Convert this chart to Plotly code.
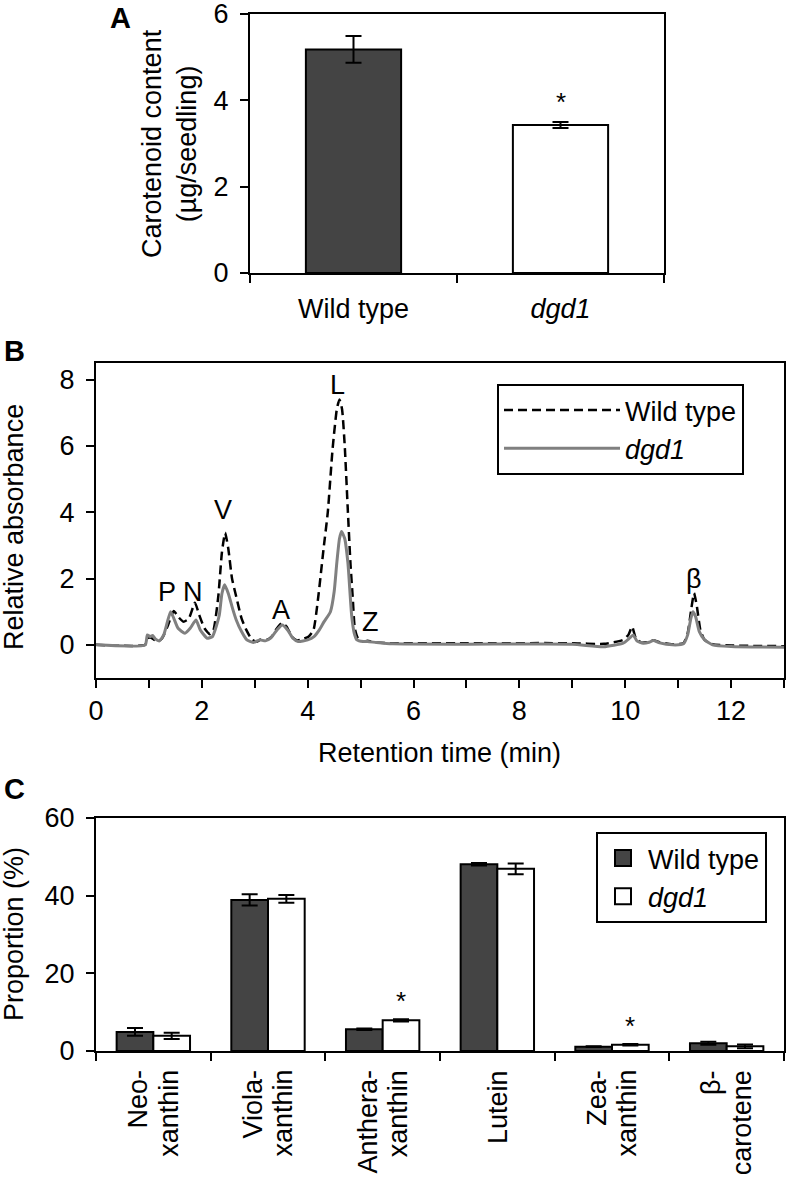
import plotly.graph_objects as go

# ---------------- Data ----------------
# Panel A: total carotenoid content
genotypes_a = ["Wild type", "<i>dgd1</i>"]
content_a = [5.18, 3.43]
content_err_a = [0.31, 0.07]

# Panel B: HPLC chromatogram
wt_time = [0, 0.93, 0.97, 1.03, 1.1, 1.17, 1.25, 1.35, 1.47, 1.55, 1.65, 1.75, 1.87, 1.95,
           2.05, 2.15, 2.22, 2.31, 2.38, 2.44, 2.5, 2.57, 2.65, 2.75, 2.84, 2.95, 3.05, 3.12,
           3.22, 3.32, 3.42, 3.52, 3.6, 3.7, 3.8, 3.92, 4.02, 4.11, 4.2, 4.3, 4.38, 4.47,
           4.55, 4.6, 4.65, 4.7, 4.76, 4.81, 4.85, 4.89, 4.95, 5.05, 5.13, 5.25, 5.5, 7.0,
           9.0, 9.6, 9.96, 10.06, 10.13, 10.2, 10.3, 10.42, 10.53, 10.65, 10.89, 11.1, 11.18,
           11.25, 11.3, 11.35, 11.42, 11.5, 11.65, 12.0, 13.0]
wt_abs = [0, 0, 0.2, 0.22, 0.15, 0.1, 0.2, 0.55, 1.02, 0.85, 0.7, 0.78, 1.27, 0.9,
          0.5, 0.32, 0.45, 1.45, 2.8, 3.38, 2.9, 2.0, 1.45, 0.8, 0.45, 0.15, 0.1, 0.17,
          0.15, 0.25, 0.5, 0.67, 0.55, 0.25, 0.13, 0.18, 0.25, 0.45, 1.45, 2.9, 4.0, 5.9,
          7.1, 7.4, 7.1, 6.0, 4.0, 2.4, 1.45, 0.5, 0.2, 0.1, 0.12, 0.08, 0.05, 0.05,
          0.05, 0.03, 0.15, 0.3, 0.55, 0.2, 0.07, 0.08, 0.14, 0.08, 0.02, 0.05, 0.35,
          1.1, 1.56, 1.2, 0.45, 0.15, 0.02, -0.02, -0.04]

dgd_time = [0, 0.93, 0.97, 1.02, 1.07, 1.12, 1.2, 1.28, 1.35, 1.41, 1.47, 1.55, 1.68, 1.78,
            1.89, 1.97, 2.1, 2.2, 2.28, 2.33, 2.38, 2.43, 2.5, 2.58, 2.65, 2.75, 2.85, 2.97,
            3.09, 3.2, 3.3, 3.42, 3.52, 3.62, 3.72, 3.82, 4.0, 4.12, 4.22, 4.31, 4.43, 4.5,
            4.55, 4.6, 4.64, 4.7, 4.76, 4.83, 4.88, 4.93, 5.05, 5.13, 5.3, 5.6, 7.0, 9.0,
            9.59, 9.96, 10.08, 10.15, 10.22, 10.34, 10.45, 10.53, 10.65, 10.89, 11.1, 11.18,
            11.24, 11.28, 11.33, 11.4, 11.5, 11.65, 12.0, 13.0]
dgd_abs = [0, 0, 0.3, 0.25, 0.28, 0.18, 0.12, 0.3, 0.7, 1.0, 0.8, 0.5, 0.35, 0.5,
           0.75, 0.45, 0.2, 0.25, 0.6, 0.9, 1.55, 1.81, 1.55, 1.1, 0.75, 0.4, 0.15, 0.07,
           0.15, 0.12, 0.2, 0.45, 0.6, 0.45, 0.2, 0.1, 0.15, 0.25, 0.45, 0.7, 1.0, 1.6,
           2.47, 3.2, 3.42, 3.2, 2.47, 0.9, 0.35, 0.15, 0.1, 0.1, 0.07, 0.03, 0.02, 0.02,
           -0.06, 0.05, 0.2, 0.3, 0.12, 0.05, 0.08, 0.13, 0.06, 0.0, 0.03, 0.3,
           0.8, 1.0, 0.85, 0.4, 0.15, 0.0, -0.05, -0.07]

peak_labels = ["P", "N", "V", "A", "L", "Z", "β"]
peak_label_t = [1.34, 1.83, 2.4, 3.49, 4.57, 5.19, 11.3]
peak_label_v = [1.6, 1.6, 4.08, 1.06, 7.85, 0.7, 2.0]

# Panel C: carotenoid composition
pigments = ["Neo-<br>xanthin", "Viola-<br>xanthin", "Anthera-<br>xanthin", "Lutein",
            "Zea-<br>xanthin", "β-<br>carotene"]
wt_prop = [4.9, 38.9, 5.6, 48.1, 1.1, 2.0]
wt_prop_err = [1.0, 1.45, 0.2, 0.3, 0.1, 0.4]
dgd_prop = [3.9, 39.2, 7.9, 46.9, 1.6, 1.2]
dgd_prop_err = [0.8, 1.0, 0.3, 1.4, 0.2, 0.5]
significant = [False, False, True, False, True, False]

# ---------------- Styling ----------------
W, H = 789, 1180
FONT = "Liberation Sans, Arial, Helvetica, sans-serif"
FS = 27
DARK = "#444444"
GRAY = "#808080"

# approximate Liberation Sans advance widths (per 1000 em) for label layout
CHAR_W = {"N": 722, "e": 556, "o": 556, "-": 333, "x": 500, "a": 556, "n": 556, "t": 278,
          "h": 556, "i": 222, "V": 667, "l": 222, "A": 667, "r": 333, "L": 556, "u": 556,
          "Z": 611, "β": 575, "c": 500}

def text_len(s, size=FS):
    return sum(CHAR_W.get(ch, 556) for ch in s) * size / 1000.0

def px_x(p):
    return p / W

def px_y(p):
    return 1 - p / H

def txt(font_size=FS):
    return dict(family=FONT, size=font_size, color="black")

fig = go.Figure()

# Panel A
fig.add_trace(go.Bar(
    x=genotypes_a, y=content_a, width=0.46,
    marker=dict(color=[DARK, "white"], line=dict(color="black", width=2)),
    error_y=dict(type="data", array=content_err_a, color="black", thickness=2, width=8),
    xaxis="x", yaxis="y", showlegend=False,
))

# Panel B
fig.add_trace(go.Scatter(
    x=wt_time, y=wt_abs, mode="lines", name="Wild type",
    line=dict(color="black", width=2.5, dash="9px,5px", shape="spline", smoothing=0.5),
    xaxis="x2", yaxis="y2", legend="legend",
))
fig.add_trace(go.Scatter(
    x=dgd_time, y=dgd_abs, mode="lines", name="<i>dgd1</i>",
    line=dict(color=GRAY, width=3, shape="spline", smoothing=0.5),
    xaxis="x2", yaxis="y2", legend="legend",
))

# Panel C
fig.add_trace(go.Bar(
    x=pigments, y=wt_prop, name="Wild type", showlegend=False,
    marker=dict(color=DARK, line=dict(color="black", width=2)),
    error_y=dict(type="data", array=wt_prop_err, color="black", thickness=2, width=8),
    xaxis="x3", yaxis="y3",
))
fig.add_trace(go.Bar(
    x=pigments, y=dgd_prop, name="<i>dgd1</i>", showlegend=False,
    marker=dict(color="white", line=dict(color="black", width=2)),
    error_y=dict(type="data", array=dgd_prop_err, color="black", thickness=2, width=8),
    xaxis="x3", yaxis="y3",
))
# legend entries for panel C (larger square swatches)
for nm, col in [("Wild type", DARK), ("<i>dgd1</i>", "white")]:
    fig.add_trace(go.Scatter(
        x=[None], y=[None], mode="markers", name=nm,
        marker=dict(symbol="square", size=16, color=col, line=dict(color="black", width=2)),
        xaxis="x3", yaxis="y3", legend="legend2",
    ))

axis_common = dict(showline=True, linecolor="black", linewidth=2, mirror=True,
                   ticks="outside", ticklen=8, tickwidth=2, tickcolor="black",
                   showgrid=False, zeroline=False, automargin=False,
                   ticklabeloverflow="allow", tickfont=txt())

annotations = []

# Significance stars panel A
annotations.append(dict(x=genotypes_a[1], y=content_a[1] + content_err_a[1], xref="x", yref="y",
                        text="*", showarrow=False, xanchor="center", yanchor="middle", yshift=20,
                        font=txt(26)))
# Significance stars panel C
for cat, v, e, s in zip(pigments, dgd_prop, dgd_prop_err, significant):
    if s:
        annotations.append(dict(x=cat, y=v + e, xref="x3", yref="y3", text="*",
                                showarrow=False, xanchor="center", yanchor="middle",
                                yshift=18, xshift=18, font=txt(26)))

# Category labels panel C (rotated, each line ending just below the axis)
for cat in pigments:
    lines = cat.split("<br>")
    n = len(lines)
    for i, ln in enumerate(lines):
        shift = (i - (n - 1) / 2) * 30
        annotations.append(dict(x=cat, y=0, xref="x3", yref="y3", text=ln, textangle=-90,
                                showarrow=False, xanchor="center", yanchor="middle",
                                xshift=shift, yshift=-(19 + text_len(ln) / 2), font=txt()))

# Peak labels panel B
for lab, t, v in zip(peak_labels, peak_label_t, peak_label_v):
    annotations.append(dict(x=t, y=v, xref="x2", yref="y2", text=lab, showarrow=False,
                            xanchor="center", yanchor="middle", font=txt()))

# Axis titles and panel letters
def paper_note(x, y, text, angle=0, size=FS):
    return dict(x=px_x(x), y=px_y(y), xref="paper", yref="paper", showarrow=False,
                xanchor="center", yanchor="middle", text=text, textangle=angle,
                font=txt(size))

annotations += [
    paper_note(170, 144, "Carotenoid content<br>(µg/seedling)", -90),
    paper_note(14, 527, "Relative absorbance", -90),
    paper_note(440, 753, "Retention time (min)"),
    paper_note(14, 934, "Proportion (%)", -90),
    paper_note(121, 18, "<b>A</b>", size=29),
    paper_note(14, 351, "<b>B</b>", size=29),
    paper_note(14, 789, "<b>C</b>", size=29),
]

fig.update_layout(
    width=W, height=H,
    margin=dict(l=0, r=0, t=0, b=0, autoexpand=False),
    paper_bgcolor="white", plot_bgcolor="white",
    font=txt(),
    barmode="group", bargap=0.36, bargroupgap=0,
    xaxis=dict(domain=[px_x(250), px_x(664)], anchor="y", type="category",
               tickson="boundaries", ticklabelstandoff=11, **axis_common),
    yaxis=dict(domain=[px_y(273), px_y(14)], anchor="x", range=[0, 6], dtick=2,
               ticklabelstandoff=6, **axis_common),
    xaxis2=dict(domain=[px_x(96), px_x(784)], anchor="y2", range=[0, 13], dtick=2,
                minor=dict(dtick=1, ticks="outside", ticklen=8, tickwidth=2, tickcolor="black"),
                **axis_common),
    yaxis2=dict(domain=[px_y(678), px_y(363)], anchor="x2", range=[-1, 8.5], dtick=2,
                tickvals=[0, 2, 4, 6, 8], ticklabelstandoff=6, **axis_common),
    xaxis3=dict(domain=[px_x(96), px_x(784)], anchor="y3", type="category",
                tickson="boundaries", showticklabels=False, **axis_common),
    yaxis3=dict(domain=[px_y(1051), px_y(818)], anchor="x3", range=[0, 60], dtick=20,
                ticklabelstandoff=6, **axis_common),
    legend=dict(x=px_x(497), y=px_y(384), xanchor="left", yanchor="top",
                bordercolor="black", borderwidth=2, bgcolor="white",
                font=txt(), itemwidth=116, entrywidth=160, tracegroupgap=0),
    legend2=dict(x=px_x(596), y=px_y(832), xanchor="left", yanchor="top",
                 bordercolor="black", borderwidth=2, bgcolor="white",
                 font=txt(), itemwidth=40, entrywidth=160, tracegroupgap=0),
    annotations=annotations,
)

fig.write_html(
    "out.html",
    config={"displayModeBar": False},
    post_script="document.body.style.margin='0';document.body.style.overflow='hidden';",
)
